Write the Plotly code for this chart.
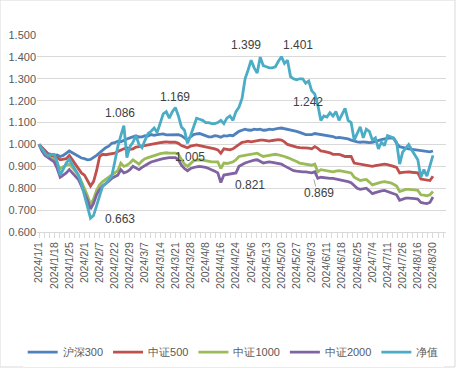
import plotly.graph_objects as go

tick_labels = ["2024/1/1", "2024/1/18", "2024/1/25", "2024/2/1", "2024/2/7", "2024/2/22",
               "2024/2/29", "2024/3/7", "2024/3/14", "2024/3/21", "2024/3/28", "2024/4/8",
               "2024/4/16", "2024/4/24", "2024/5/6", "2024/5/13", "2024/5/20", "2024/5/27",
               "2024/6/3", "2024/6/11", "2024/6/18", "2024/6/25", "2024/7/4", "2024/7/11",
               "2024/7/26", "2024/8/16", "2024/8/30"]

hs300 = [1.000, 0.985, 0.970, 0.958, 0.955, 0.950, 0.952, 0.945, 0.950, 0.960,
         0.970, 0.962, 0.955, 0.946, 0.938, 0.935, 0.930, 0.932, 0.940, 0.950,
         0.962, 0.975, 0.985, 0.992, 1.005, 1.008, 1.015, 1.012, 1.020, 1.025,
         1.030, 1.036, 1.040, 1.034, 1.035, 1.040, 1.038, 1.045, 1.042, 1.045,
         1.045, 1.048, 1.044, 1.045, 1.046, 1.045, 1.045, 1.040, 1.030, 1.020,
         1.035, 1.045, 1.048, 1.050, 1.045, 1.040, 1.035, 1.035, 1.040, 1.038,
         1.033, 1.040, 1.038, 1.042, 1.040, 1.050, 1.060, 1.065, 1.070, 1.066,
         1.065, 1.070, 1.068, 1.070, 1.065, 1.066, 1.070, 1.068, 1.072, 1.073,
         1.075, 1.072, 1.070, 1.068, 1.065, 1.060, 1.055, 1.050, 1.045, 1.045,
         1.045, 1.050, 1.048, 1.045, 1.043, 1.040, 1.040, 1.036, 1.030, 1.032,
         1.030, 1.028, 1.025, 1.020, 1.015, 1.012, 1.010, 1.012, 1.010, 1.008,
         1.010, 1.015, 1.020, 1.022, 1.025, 1.028, 1.030, 1.028, 1.005, 0.990,
         0.985, 0.983, 0.980, 0.978, 0.975, 0.972, 0.970, 0.968, 0.965, 0.966,
         0.970]

zz500 = [1.000, 0.985, 0.968, 0.955, 0.950, 0.945, 0.940, 0.930, 0.932, 0.935,
         0.950, 0.930, 0.905, 0.885, 0.870, 0.860, 0.835, 0.810, 0.830, 0.880,
         0.945, 0.955, 0.953, 0.955, 0.958, 0.960, 0.968, 0.975, 0.980, 0.985,
         0.978, 0.980, 0.988, 0.990, 0.993, 0.995, 0.998, 1.000, 1.003, 1.005,
         1.008, 1.010, 1.012, 1.010, 1.010, 1.010, 1.005, 0.995, 0.990, 0.985,
         0.992, 0.995, 0.998, 0.995, 0.992, 0.990, 0.988, 0.985, 0.980, 0.975,
         0.960, 0.980, 0.978, 0.975, 0.980, 0.990, 1.000, 1.010, 1.012, 1.015,
         1.012, 1.015, 1.018, 1.020, 1.020, 1.018, 1.015, 1.018, 1.020, 1.022,
         1.020, 1.012, 1.000, 0.995, 0.990, 0.988, 0.985, 0.985, 0.985, 0.983,
         0.980, 0.990, 0.982, 0.970, 0.968, 0.965, 0.962, 0.955, 0.955, 0.955,
         0.950, 0.945, 0.945, 0.945, 0.915, 0.912, 0.910, 0.908, 0.905, 0.902,
         0.900, 0.903, 0.905, 0.908, 0.910, 0.908, 0.905, 0.900, 0.895, 0.870,
         0.872, 0.875, 0.875, 0.873, 0.872, 0.870, 0.842, 0.840, 0.835, 0.835,
         0.855]

zz1000 = [1.000, 0.975, 0.955, 0.945, 0.935, 0.930, 0.910, 0.890, 0.898, 0.905,
          0.910, 0.895, 0.880, 0.860, 0.830, 0.800, 0.765, 0.727, 0.750, 0.790,
          0.815, 0.830, 0.840, 0.850, 0.860, 0.870, 0.880, 0.915, 0.900, 0.905,
          0.915, 0.930, 0.920, 0.910, 0.925, 0.935, 0.940, 0.945, 0.950, 0.955,
          0.958, 0.960, 0.962, 0.960, 0.960, 0.960, 0.955, 0.930, 0.910, 0.900,
          0.915, 0.925, 0.928, 0.930, 0.928, 0.925, 0.922, 0.920, 0.920, 0.920,
          0.890, 0.915, 0.913, 0.915, 0.920, 0.930, 0.945, 0.948, 0.950, 0.952,
          0.955, 0.958, 0.960, 0.952, 0.945, 0.948, 0.950, 0.952, 0.955, 0.952,
          0.950, 0.945, 0.940, 0.935, 0.930, 0.922, 0.915, 0.912, 0.910, 0.908,
          0.905, 0.910, 0.875, 0.885, 0.882, 0.880, 0.878, 0.875, 0.878, 0.880,
          0.878, 0.875, 0.872, 0.870, 0.850, 0.842, 0.835, 0.838, 0.840, 0.828,
          0.815, 0.820, 0.825, 0.828, 0.830, 0.828, 0.825, 0.818, 0.810, 0.785,
          0.790, 0.795, 0.795, 0.795, 0.792, 0.790, 0.770, 0.768, 0.765, 0.770,
          0.785]

zz2000 = [1.000, 0.970, 0.950, 0.940, 0.930, 0.920, 0.890, 0.850, 0.860, 0.870,
          0.885, 0.870, 0.860, 0.840, 0.810, 0.780, 0.745, 0.705, 0.730, 0.770,
          0.795, 0.810, 0.820, 0.832, 0.845, 0.852, 0.860, 0.885, 0.870, 0.875,
          0.885, 0.900, 0.892, 0.885, 0.895, 0.905, 0.912, 0.920, 0.925, 0.930,
          0.932, 0.935, 0.938, 0.940, 0.940, 0.940, 0.930, 0.905, 0.890, 0.880,
          0.890, 0.895, 0.898, 0.900, 0.898, 0.895, 0.890, 0.885, 0.878, 0.870,
          0.826, 0.860, 0.862, 0.865, 0.868, 0.870, 0.900, 0.908, 0.915, 0.920,
          0.925, 0.928, 0.930, 0.922, 0.915, 0.918, 0.920, 0.918, 0.915, 0.912,
          0.910, 0.902, 0.895, 0.888, 0.880, 0.878, 0.875, 0.875, 0.875, 0.872,
          0.870, 0.875, 0.845, 0.850, 0.848, 0.845, 0.845, 0.845, 0.842, 0.840,
          0.838, 0.835, 0.830, 0.825, 0.810, 0.800, 0.795, 0.798, 0.800, 0.788,
          0.775, 0.780, 0.785, 0.788, 0.790, 0.785, 0.780, 0.775, 0.770, 0.745,
          0.750, 0.755, 0.755, 0.755, 0.752, 0.750, 0.735, 0.732, 0.730, 0.735,
          0.760]

nav = [1.000, 0.980, 0.960, 0.947, 0.955, 0.955, 0.920, 0.859, 0.890, 0.915,
       0.932, 0.910, 0.885, 0.860, 0.820, 0.765, 0.720, 0.663, 0.675, 0.720,
       0.775, 0.810, 0.820, 0.835, 0.855, 0.920, 0.990, 1.040, 1.086, 0.940,
       0.990, 1.010, 1.040, 1.000, 0.985, 1.020, 1.050, 1.060, 1.075, 1.055,
       1.100, 1.140, 1.150, 1.120, 1.150, 1.169, 1.130, 1.080, 1.065, 1.005,
       1.040, 1.080, 1.120, 1.115, 1.110, 1.100, 1.100, 1.095, 1.095, 1.100,
       1.110, 1.095, 1.120, 1.130, 1.110, 1.150, 1.170, 1.210, 1.300, 1.340,
       1.385, 1.350, 1.326, 1.399, 1.360, 1.355, 1.350, 1.350, 1.355, 1.380,
       1.401, 1.370, 1.385, 1.310, 1.300, 1.295, 1.300, 1.300, 1.280, 1.290,
       1.245, 1.230, 1.180, 1.110, 1.130, 1.125, 1.145, 1.130, 1.150, 1.110,
       1.140, 1.165, 1.110, 1.100, 1.020, 1.050, 1.080, 1.030, 1.070, 1.060,
       1.020, 1.030, 0.980, 1.010, 0.995, 1.040, 1.035, 1.030, 1.010, 0.910,
       0.965, 0.985, 1.000, 0.975, 0.955, 0.930, 0.850, 0.885, 0.855, 0.900,
       0.950]

series_names = ["沪深300", "中证500", "中证1000", "中证2000", "净值"]
series_colors = ["#4F81BD", "#C0504D", "#9BBB59", "#8064A2", "#4BACC6"]

# data labels: (text, index position, value position)
label_texts = ["1.086", "0.663", "1.169", "1.005", "0.821", "0.869", "1.399", "1.401", "1.242"]
label_idx = [26.7, 26.7, 44.9, 49.8, 69.6, 92.5, 68.3, 85.5, 88.8]
label_val = [1.144, 0.660, 1.217, 0.943, 0.815, 0.780, 1.454, 1.454, 1.192]

n = len(nav)
xs = list(range(n))
fig = go.Figure()
for name, color, ys in zip(series_names, series_colors, [hs300, zz500, zz1000, zz2000, nav]):
    fig.add_trace(go.Scatter(x=xs, y=ys, mode="lines", name=name,
                             line=dict(color=color, width=2.8)))

for t, xi, yv in zip(label_texts, label_idx, label_val):
    fig.add_annotation(x=xi, y=yv, text=t, showarrow=False,
                       font=dict(size=12, color="#404040"))
# leader line for 0.869
fig.add_shape(type="line", x0=90.7, x1=91.3, y0=0.840, y1=0.808,
              line=dict(color="#A6A6A6", width=1))

fig.update_layout(
    width=457, height=375,
    margin=dict(l=37, r=11, t=35, b=143, autoexpand=False),
    paper_bgcolor="white", plot_bgcolor="white",
    font=dict(family="Liberation Sans, Arial, sans-serif", color="#595959", size=11),
    showlegend=True,
    legend=dict(orientation="h", x=-0.035, xanchor="left",
                y=-0.61, yanchor="middle",
                font=dict(size=11, color="#595959"),
                itemwidth=30, tracegroupgap=0, traceorder="normal"),
)
fig.update_xaxes(range=[-0.66, 134.3], tickmode="array",
                 tickvals=list(range(0, n, 5)), ticktext=tick_labels,
                 tickangle=-90, ticks="outside", ticklen=5, tickcolor="#D9D9D9",
                 showline=True, linecolor="#D9D9D9", showgrid=False, zeroline=False,
                 automargin=False,
                 tickfont=dict(size=10.5, color="#595959"),
                 minor=dict(tickmode="linear", tick0=0, dtick=5 / 3, ticks="outside",
                            ticklen=5, tickcolor="#D9D9D9", showgrid=False))
fig.update_yaxes(range=[0.6, 1.5], dtick=0.1, tick0=0.6, tickformat=".3f",
                 showgrid=True, gridcolor="#D9D9D9", gridwidth=1, zeroline=False,
                 showline=False, ticks="", automargin=False,
                 tickfont=dict(size=11, color="#595959"))

# chart border
fig.add_shape(type="rect", xref="paper", yref="paper", x0=-37/409, x1=1 + 9/409,
              y0=-135/197, y1=1 + 35/197, line=dict(color="#D9D9D9", width=1))

fig.write_html("out.html", config={"displayModeBar": False},
               post_script="document.body.style.margin='0';document.body.style.overflow='hidden';")
